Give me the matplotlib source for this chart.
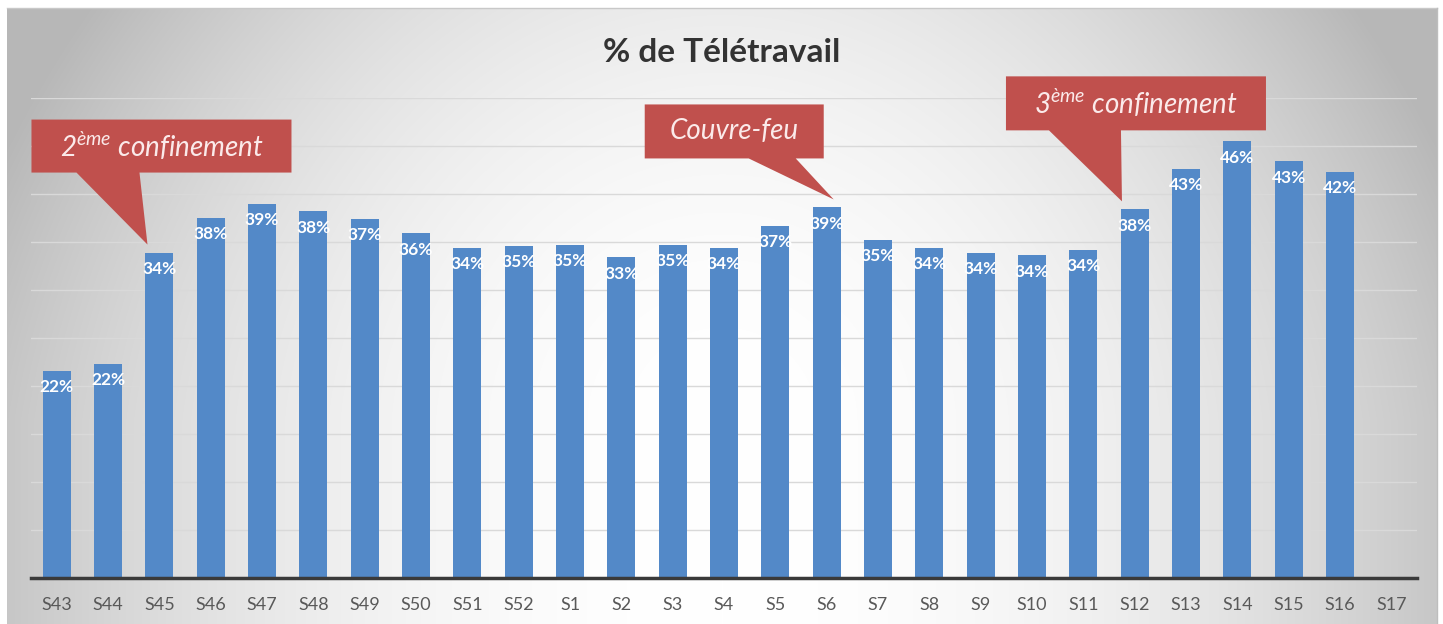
import numpy as np
import matplotlib
matplotlib.use("Agg")
import matplotlib.pyplot as plt
from matplotlib.patches import Polygon
from matplotlib.transforms import IdentityTransform

plt.rcParams['font.family'] = ['Lato', 'DejaVu Sans']
plt.rcParams['mathtext.fontset'] = 'custom'
plt.rcParams['mathtext.rm'] = 'Lato:italic'
plt.rcParams['mathtext.it'] = 'Lato:italic'
plt.rcParams['mathtext.default'] = 'it'

# ---- data ----
weeks = ["S43", "S44", "S45", "S46", "S47", "S48", "S49", "S50", "S51", "S52",
         "S1", "S2", "S3", "S4", "S5", "S6", "S7", "S8", "S9", "S10", "S11",
         "S12", "S13", "S14", "S15", "S16", "S17"]
values = [0.216, 0.223, 0.339, 0.375, 0.390, 0.382, 0.374, 0.359, 0.344, 0.346,
          0.347, 0.334, 0.347, 0.344, 0.367, 0.386, 0.352, 0.344, 0.339, 0.336,
          0.342, 0.384, 0.426, 0.455, 0.434, 0.423, np.nan]
title = "% de Télétravail"
callouts = [
    # (text, category index, rect offsets px (x0,x1,y0,y1), pointer base offsets (b0,b1), tip x shift in bar widths)
    ("$2^{ème}$ confinement", 2, (-116, 144, 72, 125), (-71, -8), -0.42),
    ("Couvre-feu", 15, (-189, -10, 41, 95), (-85, -38), 0.25),
    ("$3^{ème}$ confinement", 21, (-116, 144, 71, 125), (-73, -1), -0.45),
]

W, H = 1443, 624
fig = plt.figure(figsize=(W / 100, H / 100), dpi=100)
fig.patch.set_facecolor("white")

# background gradient
bg = fig.add_axes([0, 0, 1, 1], zorder=-10)
yy, xx = np.mgrid[0:H, 0:W]
x0, x1, y0, y1 = 7, 1437, 8, 624
nx = (xx - (x0 + x1) / 2) / ((x1 - x0) / 2)
ny = (yy - 420) / 420.0
v = 1 - 0.22 * nx ** 2 - 0.08 * np.clip(-ny, 0, None) ** 2 - 0.04 * (nx ** 2) * np.clip(-ny, 0, None)
v = np.clip(v, 0.72, 1)
inside = (xx >= x0) & (xx <= x1) & (yy >= y0) & (yy <= y1)
img = np.where(inside, v, 1.0)
img = np.dstack([img, img, img])
bg.imshow(img, extent=(0, W, H, 0), aspect='auto', interpolation='bilinear')
bg.plot([x0, x1], [y0, y0], color="#c8c8c8", lw=1)
bg.plot([x1, x1], [y0, H], color="#bdbdbd", lw=1)
bg.set_xlim(0, W)
bg.set_ylim(H, 0)
bg.axis("off")

# main axes
left, right, top, base = 31, 1417, 98, 578
ax = fig.add_axes([left / W, (H - base) / H, (right - left) / W, (base - top) / H])
ax.set_facecolor("none")
x = np.arange(len(weeks))
bar_color = "#5389C8"
ax.bar(x, values, width=0.55, color=bar_color, zorder=3)
ax.set_xlim(-0.5, len(weeks) - 0.5)
ax.set_ylim(0, 0.5)
ax.set_yticks(np.arange(0, 0.501, 0.05))
ax.yaxis.grid(True, color="#d9d9d9", lw=1, zorder=0)
ax.tick_params(axis='y', left=False, labelleft=False)
ax.tick_params(axis='x', bottom=False, length=0, pad=14, labelsize=13, labelcolor="#595959")
ax.set_xticks(x)
ax.set_xticklabels(weeks)
for s in ["top", "right", "left"]:
    ax.spines[s].set_visible(False)
ax.spines["bottom"].set_color("#3a3a3a")
ax.spines["bottom"].set_linewidth(2.5)
ax.spines["bottom"].set_zorder(4)

for xi, val in zip(x, values):
    if np.isnan(val):
        continue
    ax.annotate(f"{val * 100:.0f}%", (xi, val), xytext=(0, -6), textcoords="offset points",
                ha="center", va="top", color="white", fontsize=12.5, fontweight="bold", zorder=5)

fig.text(0.5, (H - 52) / H, title, ha="center", va="center", fontsize=24,
         fontweight="bold", color="#333333")

fig.canvas.draw()
red = "#C0504D"
for text, idx, (rx0, rx1, ry0, ry1), (b0, b1), shift in callouts:
    tipx, tipy = ax.transData.transform((idx + shift * 0.55, values[idx]))
    tipy += 8
    verts = [
        (tipx + rx0, tipy + ry0 + 0), (tipx + rx0, tipy + ry1),
        (tipx + rx1, tipy + ry1), (tipx + rx1, tipy + ry0),
        (tipx + b1, tipy + ry0), (tipx, tipy), (tipx + b0, tipy + ry0),
    ]
    fig.patches.append(Polygon(verts, closed=True, transform=IdentityTransform(),
                               facecolor=red, edgecolor="none", zorder=6, figure=fig))
    cx = tipx + (rx0 + rx1) / 2
    cy = tipy + (ry0 + ry1) / 2
    fig.text(cx / W, cy / H, text, ha="center", va="center", fontsize=20,
             style="italic", color="#fbeaea", zorder=7)

fig.savefig("out.png", dpi=100)
